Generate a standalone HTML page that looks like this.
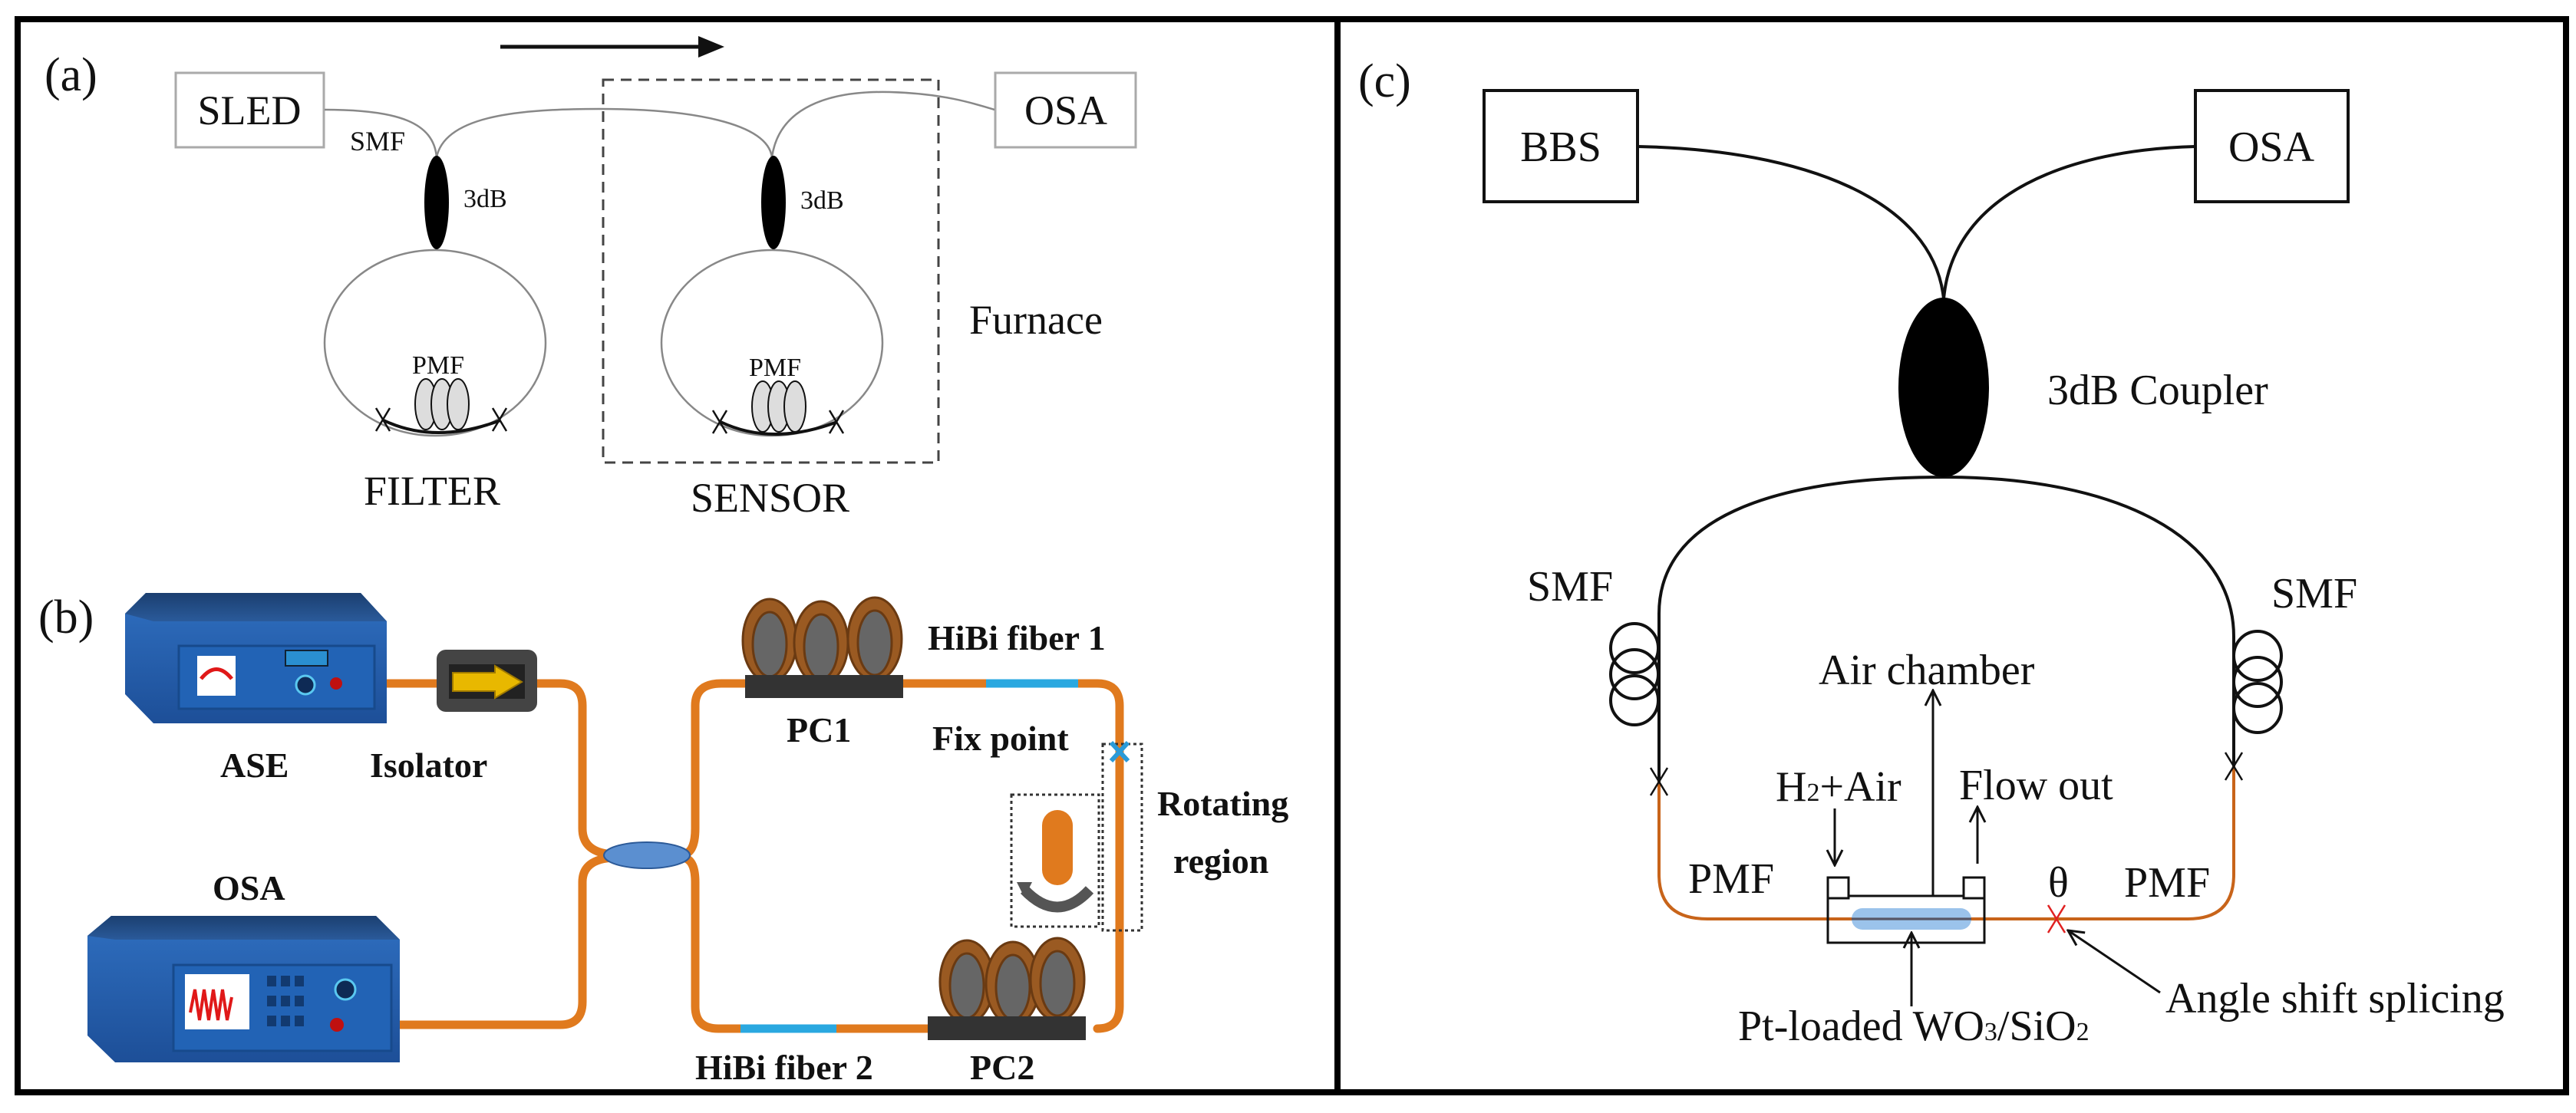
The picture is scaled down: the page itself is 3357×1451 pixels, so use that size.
<!DOCTYPE html>
<html><head><meta charset="utf-8"><style>
html,body{margin:0;padding:0;background:#fff}
svg{display:block}
text{font-family:"Liberation Serif",serif;fill:#111}
.b{font-weight:bold}
</style></head><body>
<svg width="3357" height="1451" viewBox="0 0 3357 1451" xmlns="http://www.w3.org/2000/svg">
<defs>
<linearGradient id="blu" x1="0" y1="0" x2="0" y2="1"><stop offset="0" stop-color="#2f6fc0"/><stop offset="1" stop-color="#1d4f98"/></linearGradient>
<linearGradient id="top" x1="0" y1="0" x2="0" y2="1"><stop offset="0" stop-color="#1b3f70"/><stop offset="1" stop-color="#2a5a9a"/></linearGradient>
<marker id="ah" markerWidth="24" markerHeight="24" refX="22" refY="12" orient="auto" markerUnits="userSpaceOnUse"><path d="M2,2 L22,12 L2,22" fill="none" stroke="#111" stroke-width="3"/></marker>
</defs>
<!-- frame -->
<rect x="23" y="25" width="3321" height="1399" fill="none" stroke="#000" stroke-width="8"/>
<line x1="1743" y1="25" x2="1743" y2="1424" stroke="#000" stroke-width="8"/>

<!-- ===== Panel (a) ===== -->
<text x="58" y="118" font-size="62">(a)</text>
<line x1="652" y1="61" x2="915" y2="61" stroke="#111" stroke-width="5"/>
<polygon points="944,61 910,47 910,75" fill="#111"/>
<rect x="229" y="95" width="193" height="97" fill="#fff" stroke="#aaa" stroke-width="3"/>
<text x="325" y="162" font-size="54" text-anchor="middle">SLED</text>
<rect x="1297" y="95" width="183" height="97" fill="#fff" stroke="#aaa" stroke-width="3"/>
<text x="1389" y="162" font-size="54" text-anchor="middle">OSA</text>
<rect x="786" y="104" width="437" height="499" fill="none" stroke="#444" stroke-width="3" stroke-dasharray="14,9"/>
<g fill="none" stroke="#888" stroke-width="2.5">
<path d="M423,143 C520,143 565,160 569,205"/>
<path d="M569,205 C580,150 680,142 781,142 C900,142 1000,160 1006,205"/>
<path d="M1006,205 C1015,140 1080,118 1160,120 C1230,122 1270,135 1296,143"/>
<ellipse cx="567" cy="447" rx="144" ry="121"/>
<ellipse cx="1006" cy="447" rx="144" ry="121"/>
</g>
<ellipse cx="569" cy="264" rx="16" ry="61" fill="#000"/>
<ellipse cx="1008" cy="264" rx="16" ry="61" fill="#000"/>
<text x="456" y="196" font-size="36">SMF</text>
<text x="604" y="270" font-size="34">3dB</text>
<text x="1043" y="272" font-size="34">3dB</text>
<text x="537" y="487" font-size="34">PMF</text>
<text x="976" y="490" font-size="34">PMF</text>
<g stroke="#111" stroke-width="2" fill="#ddd">
<ellipse cx="555" cy="527" rx="14" ry="33"/><ellipse cx="576" cy="527" rx="14" ry="33"/><ellipse cx="597" cy="527" rx="14" ry="33"/>
<ellipse cx="994" cy="530" rx="14" ry="33"/><ellipse cx="1015" cy="530" rx="14" ry="33"/><ellipse cx="1036" cy="530" rx="14" ry="33"/>
</g>
<g stroke="#111" stroke-width="4" fill="none">
<path d="M500,548 Q567,580 652,548"/>
<path d="M939,550 Q1006,582 1091,550"/>
</g>
<g stroke="#111" stroke-width="2.5">
<line x1="490" y1="532" x2="508" y2="562"/><line x1="508" y1="532" x2="490" y2="562"/>
<line x1="642" y1="532" x2="660" y2="562"/><line x1="660" y1="532" x2="642" y2="562"/>
<line x1="929" y1="535" x2="947" y2="565"/><line x1="947" y1="535" x2="929" y2="565"/>
<line x1="1081" y1="535" x2="1099" y2="565"/><line x1="1099" y1="535" x2="1081" y2="565"/>
</g>
<text x="1263" y="435" font-size="54">Furnace</text>
<text x="474" y="658" font-size="54">FILTER</text>
<text x="900" y="667" font-size="54">SENSOR</text>

<!-- ===== Panel (b) ===== -->
<text x="50" y="825" font-size="62">(b)</text>
<g fill="none" stroke="#e07a1e" stroke-width="11" stroke-linecap="round">
<path d="M440,891 L730,891 Q759,891 759,920 L759,1080 Q759,1112 800,1114"/>
<path d="M445,1336 L730,1336 Q759,1336 759,1306 L759,1150 Q759,1120 800,1118"/>
<path d="M890,1114 Q906,1112 906,1080 L906,920 Q906,891 940,891 L1430,891 Q1459,891 1459,920 L1459,1312 Q1459,1341 1430,1341"/>
<path d="M890,1118 Q906,1120 906,1150 L906,1312 Q906,1341 936,1341 L1230,1341"/>
</g>
<line x1="1285" y1="891" x2="1405" y2="891" stroke="#2aa8e0" stroke-width="11"/>
<line x1="965" y1="1341" x2="1090" y2="1341" stroke="#2aa8e0" stroke-width="11"/>
<path d="M190,773 L470,773 L504,810 L504,943 L200,943 L163,905 L163,800 Z" fill="url(#blu)"/>
<path d="M190,773 L470,773 L504,810 L200,810 L163,800 Z" fill="url(#top)"/>
<rect x="233" y="842" width="255" height="82" fill="#2263b5" stroke="#174a8c" stroke-width="3"/>
<rect x="257" y="855" width="50" height="52" fill="#fff"/>
<path d="M262,885 Q282,860 302,885" fill="none" stroke="#e01818" stroke-width="5"/>
<rect x="372" y="848" width="55" height="20" fill="#2a8fd0" stroke="#123" stroke-width="2"/>
<circle cx="398" cy="893" r="12" fill="#0e2a55" stroke="#5ac8f0" stroke-width="3"/>
<circle cx="438" cy="891" r="8" fill="#c01010"/>
<rect x="569" y="847" width="131" height="81" rx="12" fill="#444"/>
<rect x="585" y="866" width="99" height="45" fill="#222"/>
<polygon points="590,877 645,877 645,868 680,889 645,910 645,901 590,901" fill="#e8b800" stroke="#a07a00" stroke-width="2"/>
<ellipse cx="843" cy="1115" rx="56" ry="17" fill="#5b8fd0" stroke="#2c5a98" stroke-width="2"/>
<path d="M145,1194 L490,1194 L521,1225 L521,1385 L150,1385 L114,1350 L114,1220 Z" fill="url(#blu)"/>
<path d="M145,1194 L490,1194 L521,1225 L150,1225 L114,1220 Z" fill="url(#top)"/>
<rect x="226" y="1258" width="284" height="112" fill="#2263b5" stroke="#174a8c" stroke-width="3"/>
<rect x="241" y="1270" width="84" height="72" fill="#fff"/>
<path d="M248,1320 l6,-30 l6,40 l6,-40 l6,40 l6,-40 l6,40 l6,-40 l6,40 l6,-30" fill="none" stroke="#e01818" stroke-width="4"/>
<g fill="#123a70">
<rect x="348" y="1272" width="12" height="14"/><rect x="366" y="1272" width="12" height="14"/><rect x="384" y="1272" width="12" height="14"/>
<rect x="348" y="1298" width="12" height="14"/><rect x="366" y="1298" width="12" height="14"/><rect x="384" y="1298" width="12" height="14"/>
<rect x="348" y="1324" width="12" height="14"/><rect x="366" y="1324" width="12" height="14"/><rect x="384" y="1324" width="12" height="14"/>
</g>
<circle cx="450" cy="1290" r="13" fill="#0e2a55" stroke="#5ac8f0" stroke-width="3"/>
<circle cx="439" cy="1336" r="9" fill="#c01010"/>
<g stroke="#6a3a12" stroke-width="3">
<ellipse cx="1003" cy="835" rx="35" ry="54" fill="#9a5a22"/><ellipse cx="1003" cy="840" rx="22" ry="42" fill="#666"/>
<ellipse cx="1070" cy="838" rx="35" ry="54" fill="#9a5a22"/><ellipse cx="1070" cy="843" rx="22" ry="42" fill="#666"/>
<ellipse cx="1140" cy="833" rx="35" ry="54" fill="#9a5a22"/><ellipse cx="1140" cy="838" rx="22" ry="42" fill="#666"/>
<ellipse cx="1260" cy="1280" rx="35" ry="54" fill="#9a5a22"/><ellipse cx="1260" cy="1285" rx="22" ry="42" fill="#666"/>
<ellipse cx="1320" cy="1282" rx="35" ry="54" fill="#9a5a22"/><ellipse cx="1320" cy="1287" rx="22" ry="42" fill="#666"/>
<ellipse cx="1378" cy="1277" rx="35" ry="54" fill="#9a5a22"/><ellipse cx="1378" cy="1282" rx="22" ry="42" fill="#666"/>
</g>
<rect x="971" y="880" width="206" height="30" fill="#333"/>
<rect x="1209" y="1325" width="206" height="31" fill="#333"/>
<rect x="1437" y="970" width="51" height="243" fill="none" stroke="#333" stroke-width="3" stroke-dasharray="4,4"/>
<rect x="1318" y="1036" width="114" height="172" fill="none" stroke="#333" stroke-width="3" stroke-dasharray="4,4"/>
<rect x="1358" y="1056" width="40" height="98" rx="20" fill="#e07a1e"/>
<path d="M1335,1160 Q1378,1205 1420,1160" fill="none" stroke="#555" stroke-width="14"/>
<polygon points="1325,1150 1345,1150 1335,1170" fill="#555"/>
<g stroke="#2a9ad8" stroke-width="6"><line x1="1448" y1="968" x2="1470" y2="992"/><line x1="1470" y1="968" x2="1448" y2="992"/></g>
<g font-size="46">
<text class="b" x="287" y="1013">ASE</text>
<text class="b" x="482" y="1013">Isolator</text>
<text class="b" x="1209" y="847">HiBi fiber 1</text>
<text class="b" x="1025" y="967">PC1</text>
<text class="b" x="1215" y="978">Fix point</text>
<text class="b" x="1508" y="1063">Rotating</text>
<text class="b" x="1529" y="1138">region</text>
<text class="b" x="277" y="1173">OSA</text>
<text class="b" x="906" y="1407">HiBi fiber 2</text>
<text class="b" x="1264" y="1407">PC2</text>
</g>

<!-- ===== Panel (c) ===== -->
<text x="1770" y="126" font-size="62">(c)</text>
<rect x="1934" y="118" width="200" height="145" fill="#fff" stroke="#111" stroke-width="4"/>
<text x="2034" y="210" font-size="56" text-anchor="middle">BBS</text>
<rect x="2861" y="118" width="199" height="145" fill="#fff" stroke="#111" stroke-width="4"/>
<text x="2960" y="210" font-size="56" text-anchor="middle">OSA</text>
<g fill="none" stroke="#111" stroke-width="4">
<path d="M2134,191 C2350,195 2520,260 2533,390"/>
<path d="M2861,191 C2700,195 2545,250 2533,390"/>
<path d="M2533,622 C2300,622 2162,680 2162,800 L2162,1019"/>
<path d="M2533,622 C2760,622 2911,700 2911,830 L2911,999"/>
</g>
<ellipse cx="2533" cy="505" rx="59" ry="117" fill="#000"/>
<text x="2668" y="527" font-size="56">3dB Coupler</text>
<text x="1990" y="783" font-size="56">SMF</text>
<text x="2960" y="792" font-size="56">SMF</text>
<g fill="none" stroke="#111" stroke-width="4">
<ellipse cx="2130" cy="845" rx="31" ry="32"/><ellipse cx="2130" cy="879" rx="31" ry="32"/><ellipse cx="2130" cy="913" rx="31" ry="32"/>
<ellipse cx="2942" cy="855" rx="31" ry="32"/><ellipse cx="2942" cy="889" rx="31" ry="32"/><ellipse cx="2942" cy="923" rx="31" ry="32"/>
</g>
<path d="M2162,1019 L2162,1140 Q2162,1198 2225,1198 L2851,1198 Q2911,1198 2911,1140 L2911,999" fill="none" stroke="#c8641a" stroke-width="4"/>
<g stroke="#111" stroke-width="2.5">
<line x1="2151" y1="1001" x2="2173" y2="1037"/><line x1="2173" y1="1001" x2="2151" y2="1037"/>
<line x1="2900" y1="981" x2="2922" y2="1017"/><line x1="2922" y1="981" x2="2900" y2="1017"/>
</g>
<g stroke="#e02020" stroke-width="2.5">
<line x1="2669" y1="1180" x2="2691" y2="1216"/><line x1="2691" y1="1180" x2="2669" y2="1216"/>
</g>
<rect x="2382" y="1168" width="204" height="61" fill="none" stroke="#111" stroke-width="3"/>
<rect x="2382" y="1144" width="27" height="27" fill="#fff" stroke="#111" stroke-width="3"/>
<rect x="2559" y="1144" width="27" height="27" fill="#fff" stroke="#111" stroke-width="3"/>
<rect x="2413" y="1184" width="156" height="28" rx="14" fill="#8ab8e8" opacity="0.85"/>
<line x1="2413" y1="1198" x2="2569" y2="1198" stroke="#556" stroke-width="3"/>
<g stroke="#111" stroke-width="3" fill="none" marker-end="url(#ah)">
<line x1="2519" y1="1168" x2="2519" y2="900"/>
<line x1="2391" y1="1054" x2="2391" y2="1128"/>
<line x1="2577" y1="1126" x2="2577" y2="1052"/>
<line x1="2491" y1="1312" x2="2491" y2="1216"/>
<line x1="2815" y1="1294" x2="2695" y2="1213"/>
</g>
<g font-size="56">
<text x="2370" y="892">Air chamber</text>
<text x="2314" y="1044">H<tspan font-size="34">2</tspan>+Air</text>
<text x="2553" y="1042">Flow out</text>
<text x="2200" y="1164">PMF</text>
<text x="2669" y="1169">θ</text>
<text x="2768" y="1169">PMF</text>
<text x="2265" y="1356">Pt-loaded WO<tspan font-size="34">3</tspan>/SiO<tspan font-size="34">2</tspan></text>
<text x="2822" y="1320">Angle shift splicing</text>
</g>
</svg>
</body></html>
